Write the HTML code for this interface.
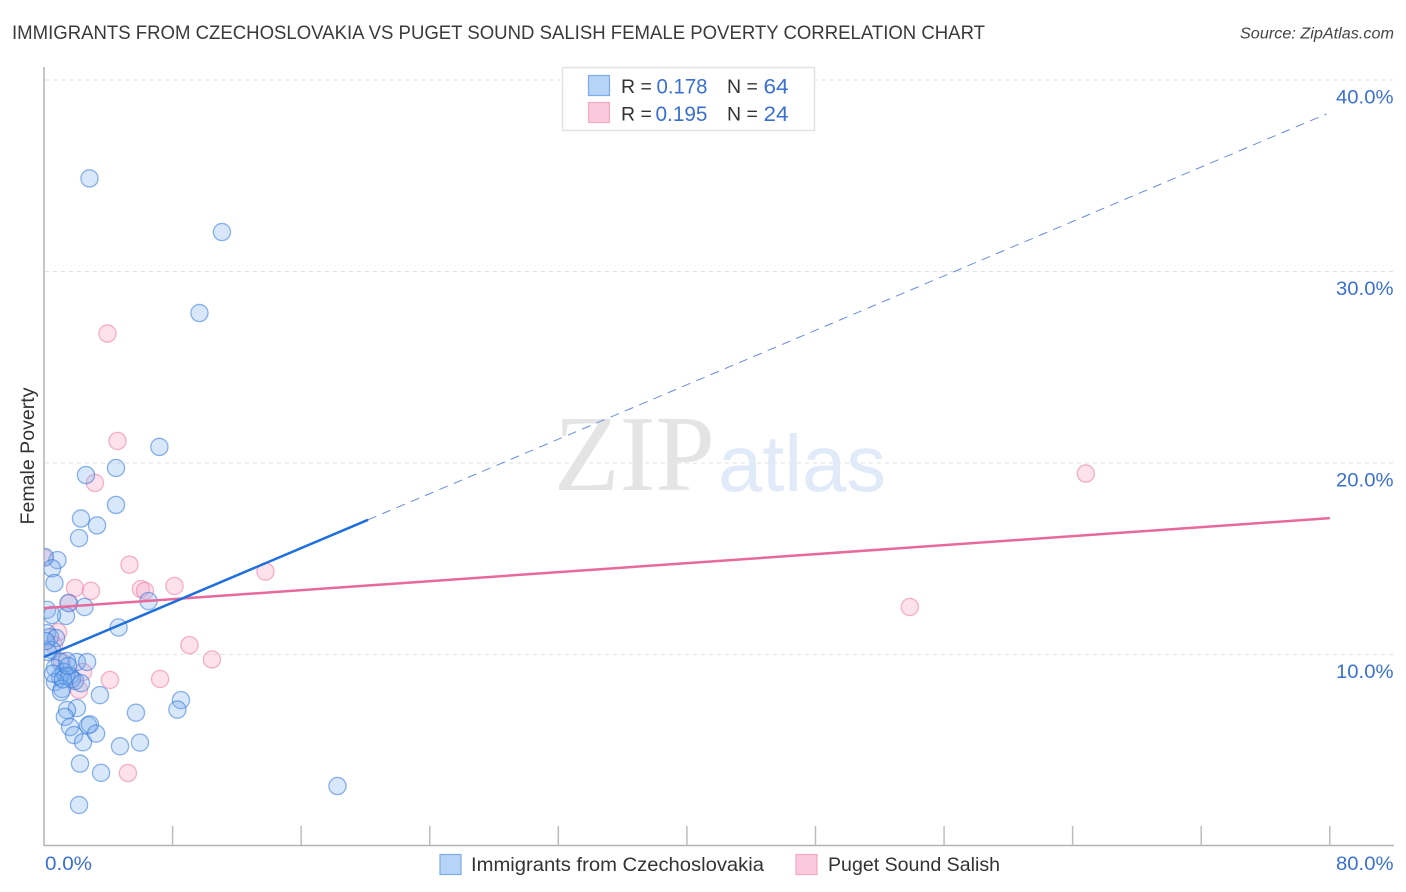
<!DOCTYPE html>
<html lang="en">
<head>
<meta charset="utf-8">
<title>Immigrants from Czechoslovakia vs Puget Sound Salish Female Poverty Correlation Chart</title>
<style>
html,body{margin:0;padding:0;background:#fff;}
svg{display:block;font-family:"Liberation Sans",sans-serif;}
</style>
</head>
<body>
<svg id="chart" xmlns="http://www.w3.org/2000/svg" width="1406" height="892" viewBox="0 0 1406 892">
  <defs><clipPath id="plot-clip"><rect x="44" y="60" width="1350" height="786"/></clipPath></defs>
  <text x="12" y="39" font-size="19.5" fill="#3a3a3a" textLength="973" lengthAdjust="spacingAndGlyphs">IMMIGRANTS FROM CZECHOSLOVAKIA VS PUGET SOUND SALISH FEMALE POVERTY CORRELATION CHART</text>
  <text x="1394" y="38.5" font-size="15.5" font-style="italic" fill="#444" text-anchor="end" textLength="154" lengthAdjust="spacingAndGlyphs">Source: ZipAtlas.com</text>
  <g id="grid"></g>
  <g>
    <text x="554" y="490" font-family="'Liberation Serif',serif" font-size="108" fill="#e4e4e4" textLength="161" lengthAdjust="spacingAndGlyphs">ZIP</text>
    <text x="718" y="491" font-size="80" fill="#e1eaf9" textLength="168" lengthAdjust="spacingAndGlyphs">atlas</text>
  </g>
  <g id="axes"></g>
  <g id="marks" clip-path="url(#plot-clip)"></g>
  <g id="lines"></g>
  <g id="tick-labels"></g>
  <text transform="translate(34,456) rotate(-90)" font-size="19" fill="#333" text-anchor="middle" textLength="137" lengthAdjust="spacingAndGlyphs">Female Poverty</text>

  <g>
    <rect x="562.5" y="67.5" width="252" height="63" fill="#fff" stroke="#e2e2e2" stroke-width="1.5"/>
    <rect x="588.5" y="75.5" width="21" height="20" fill="#b6d3f8" stroke="#7fabe6" stroke-width="1.2"/>
    <rect x="588.5" y="102.5" width="21" height="20" fill="#fbc9dc" stroke="#f3a9c4" stroke-width="1.2"/>
    <text x="621" y="93" font-size="19.5" fill="#333">R =</text>
    <text x="656.5" y="93.5" font-size="21.5" fill="#3a70d2" textLength="51" lengthAdjust="spacingAndGlyphs">0.178</text>
    <text x="727" y="93" font-size="19.5" fill="#333">N =</text>
    <text x="763.5" y="93.5" font-size="21.5" fill="#3a70d2" textLength="25" lengthAdjust="spacingAndGlyphs">64</text>
    <text x="621" y="120.5" font-size="19.5" fill="#333">R =</text>
    <text x="655.5" y="121" font-size="21.5" fill="#3a70d2" textLength="52" lengthAdjust="spacingAndGlyphs">0.195</text>
    <text x="727" y="120.5" font-size="19.5" fill="#333">N =</text>
    <text x="763.5" y="121" font-size="21.5" fill="#3a70d2" textLength="25" lengthAdjust="spacingAndGlyphs">24</text>
  </g>

  <g>
    <rect x="440" y="854.5" width="21" height="20" fill="#b6d3f8" stroke="#7fabe6" stroke-width="1.2"/>
    <text x="471" y="871" font-size="19.5" fill="#333" textLength="293" lengthAdjust="spacingAndGlyphs">Immigrants from Czechoslovakia</text>
    <rect x="796" y="854.5" width="21" height="20" fill="#fbc9dc" stroke="#f3a9c4" stroke-width="1.2"/>
    <text x="828" y="871" font-size="19.5" fill="#333" textLength="172" lengthAdjust="spacingAndGlyphs">Puget Sound Salish</text>
  </g>
</svg>
<script>
var yTickValues = [10, 20, 30, 40];
var yTickLabels = ["10.0%", "20.0%", "30.0%", "40.0%"];
var xTickValues = [0, 8, 16, 24, 32, 40, 48, 56, 64, 72, 80];
var xEndLabels = ["0.0%", "80.0%"];

var blueX = [2.83,11.07,9.67,7.18,4.48,2.61,4.48,2.30,3.30,2.18,0.84,0.06,0.50,0.65,6.50,2.52,1.52,1.37,0.19,0.50,4.64,0.19,0.37,0.75,0.50,0.25,1.00,2.05,2.68,1.43,0.68,1.24,1.62,1.93,1.00,1.37,1.74,0.68,1.12,1.06,3.48,8.52,8.30,5.72,2.05,1.43,1.30,1.62,1.87,2.43,2.74,2.86,3.24,4.73,5.97,2.24,3.55,18.26,2.18,0.56,1.18,1.50,2.30,0.12];
var blueY = [34.86,32.06,27.83,20.84,19.74,19.37,17.81,17.10,16.74,16.08,14.93,15.09,14.50,13.73,12.79,12.48,12.69,12.01,12.33,12.06,11.41,11.12,10.91,10.86,10.23,10.13,9.61,9.61,9.61,9.66,9.30,9.09,8.88,8.62,8.83,8.88,8.72,8.56,8.20,8.04,7.88,7.62,7.12,6.96,7.20,7.10,6.74,6.21,5.79,5.42,6.30,6.35,5.87,5.21,5.40,4.30,3.82,3.13,2.14,9.00,8.70,9.40,8.50,10.70];

var pinkX = [3.95,4.57,3.17,64.82,5.32,13.78,0.00,1.93,2.92,6.03,6.28,8.12,1.56,0.87,53.87,9.05,10.45,0.62,1.12,2.43,4.10,7.22,2.18,5.22];
var pinkY = [26.76,21.15,18.96,19.45,14.69,14.33,15.04,13.47,13.32,13.42,13.32,13.58,12.68,11.17,12.48,10.49,9.74,10.49,9.64,9.09,8.67,8.72,8.15,3.81];

var blueTrend = {start: 9.87, end: 38.3, solidEnd: 20.16};
var pinkTrend = {start: 12.42, end: 17.12};

var svgNS = "http://www.w3.org/2000/svg";
function xScale(v) { return 44 + v * 16.0725; }
function yScale(v) { return 846 - v * 19.15; }
function make(tag, attrs, parent) {
  var el = document.createElementNS(svgNS, tag);
  for (var k in attrs) { el.setAttribute(k, attrs[k]); }
  parent.appendChild(el);
  return el;
}
var gridG = document.getElementById("grid");
var axesG = document.getElementById("axes");
var marksG = document.getElementById("marks");
var linesG = document.getElementById("lines");
var labelsG = document.getElementById("tick-labels");

yTickValues.forEach(function (v, i) {
  var line = make("line", {x1: 45, x2: 1393, y1: yScale(v), y2: yScale(v), stroke: "#e2e2e2", "stroke-width": 1, "stroke-dasharray": "4 4"}, gridG);
  
  
  var t = make("text", {x: 1393.5, y: yScale(v) + 23.5, "font-size": 19.5, fill: "#3a70d2", "text-anchor": "end", textLength: 57.5, lengthAdjust: "spacingAndGlyphs"}, labelsG);
  t.textContent = yTickLabels[i];
  
  
});

var yAxis = make("line", {x1: 44, x2: 44, y1: 67, y2: 846, stroke: "#b4b4b4", "stroke-width": 1.5}, axesG);


var xAxis = make("line", {x1: 44, x2: 1394, y1: 845.5, y2: 845.5, stroke: "#b4b4b4", "stroke-width": 1.5}, axesG);


xTickValues.forEach(function (v) {
  if (v === 0) { return; }
  var tick = make("line", {x1: xScale(v), x2: xScale(v), y1: 826, y2: 845, stroke: "#bdbdbd", "stroke-width": 1.5}, axesG);
  
  
});
var xLeft = make("text", {x: 45, y: 870, "font-size": 19.5, fill: "#3a70d2", textLength: 47, lengthAdjust: "spacingAndGlyphs"}, labelsG);
xLeft.textContent = xEndLabels[0];


var xRight = make("text", {x: 1393.5, y: 870, "font-size": 19.5, fill: "#3a70d2", "text-anchor": "end", textLength: 57.5, lengthAdjust: "spacingAndGlyphs"}, labelsG);
xRight.textContent = xEndLabels[1];



pinkX.forEach(function (v, i) {
  var c = make("circle", {cx: xScale(v), cy: yScale(pinkY[i]), r: 8.6, fill: "rgba(248,165,195,0.32)", stroke: "rgba(236,130,170,0.6)", "stroke-width": 1.3}, marksG);
  
  
});
blueX.forEach(function (v, i) {
  var c = make("circle", {cx: xScale(v), cy: yScale(blueY[i]), r: 8.6, fill: "rgba(125,175,240,0.3)", stroke: "rgba(50,120,215,0.55)", "stroke-width": 1.3}, marksG);
  
  
});

function trendY(t, x) { return t.start + (t.end - t.start) * x / 80; }
var pinkLine = make("line", {x1: xScale(0), y1: yScale(pinkTrend.start), x2: xScale(80), y2: yScale(pinkTrend.end), stroke: "#e8699c", "stroke-width": 2.5}, linesG);


var blueSolid = make("line", {x1: xScale(0), y1: yScale(blueTrend.start), x2: xScale(blueTrend.solidEnd), y2: yScale(trendY(blueTrend, blueTrend.solidEnd)), stroke: "#1f6fdb", "stroke-width": 2.5}, linesG);


var blueDash = make("line", {x1: xScale(blueTrend.solidEnd), y1: yScale(trendY(blueTrend, blueTrend.solidEnd)), x2: xScale(79.8), y2: yScale(trendY(blueTrend, 79.8)), stroke: "#6a8bdc", "stroke-width": 1, "stroke-dasharray": "9 6.5"}, linesG);


</script>
</body>
</html>
